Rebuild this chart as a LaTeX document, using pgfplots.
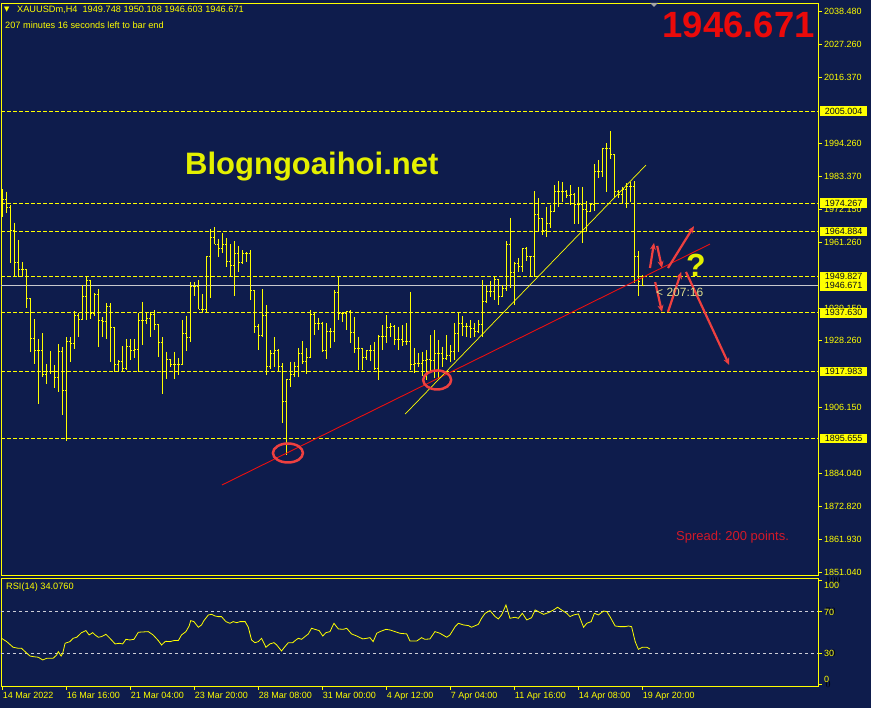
\documentclass[border=0pt]{standalone}
\usepackage{fontspec}
\setmainfont{Liberation Sans}
\newfontfamily\dejavu{DejaVu Sans}
\usepackage{pgfplots}
\usepackage{pgfplotstable}
\pgfplotsset{compat=1.18}
\usetikzlibrary{arrows.meta}
\definecolor{mtbg}{RGB}{14,28,76}
\definecolor{mty}{RGB}{255,255,0}
\definecolor{arrowred}{RGB}{238,64,64}
\definecolor{trendred}{RGB}{235,15,15}
\definecolor{bigred}{RGB}{235,10,10}
\definecolor{spreadred}{RGB}{210,25,40}
\definecolor{blogy}{RGB}{228,240,0}
\definecolor{cdown}{RGB}{222,222,140}
\definecolor{rsilev}{RGB}{205,205,215}
\definecolor{curline}{RGB}{200,200,205}

\pgfdeclareplotmark{tickL}{\pgfpathmoveto{\pgfqpoint{-1.7pt}{0pt}}\pgfpathlineto{\pgfqpoint{0pt}{0pt}}\pgfusepathqstroke}
\pgfdeclareplotmark{tickR}{\pgfpathmoveto{\pgfqpoint{0pt}{0pt}}\pgfpathlineto{\pgfqpoint{1.7pt}{0pt}}\pgfusepathqstroke}

\pgfplotstableread{
k o h l c
1 1976.0 1978.9 1969.8 1975.5
2 1975.5 1978.1 1970.9 1972.9
3 1972.9 1973.7 1954.2 1965.1
4 1965.1 1967.8 1949.5 1954.6
5 1954.6 1962.0 1949.7 1952.2
6 1952.2 1954.6 1949.7 1952.2
7 1952.2 1952.2 1939.4 1942.4
8 1942.4 1942.5 1924.7 1929.2
9 1929.2 1935.5 1920.4 1925.2
10 1925.2 1928.8 1907.1 1925.2
11 1925.2 1930.8 1916.3 1916.9
12 1916.9 1920.5 1913.9 1918.0
13 1918.0 1924.8 1917.2 1918.0
14 1918.0 1920.2 1912.4 1916.1
15 1916.1 1927.2 1911.3 1924.8
16 1924.8 1926.3 1903.4 1911.8
17 1911.8 1929.4 1894.8 1928.0
18 1928.0 1929.4 1921.3 1927.4
19 1927.4 1938.2 1925.4 1936.6
20 1936.6 1937.5 1929.7 1935.5
21 1935.5 1946.8 1935.2 1943.1
22 1943.1 1949.7 1935.2 1948.3
23 1948.3 1948.6 1935.5 1937.5
24 1937.5 1944.1 1936.6 1943.9
25 1943.9 1945.6 1926.3 1935.2
26 1935.2 1936.3 1929.7 1934.7
27 1934.7 1940.8 1928.8 1939.7
28 1939.7 1940.8 1921.3 1932.6
29 1932.6 1933.0 1918.0 1920.2
30 1920.2 1921.9 1918.0 1921.3
31 1921.3 1926.5 1918.0 1919.1
32 1919.1 1928.9 1918.5 1926.5
33 1926.5 1928.9 1921.9 1925.2
34 1925.2 1928.9 1922.4 1925.4
35 1925.4 1937.5 1918.0 1935.2
36 1935.2 1941.3 1927.0 1935.2
37 1935.2 1937.7 1933.9 1935.8
38 1935.8 1938.0 1929.4 1937.1
39 1937.1 1938.6 1931.9 1933.6
40 1933.6 1933.6 1922.8 1927.8
41 1927.8 1929.5 1910.5 1918.0
42 1918.0 1924.7 1915.4 1921.9
43 1921.9 1921.9 1919.6 1920.5
44 1920.5 1924.7 1915.4 1920.5
45 1920.5 1922.4 1916.9 1920.5
46 1920.5 1935.2 1920.5 1930.6
47 1930.6 1936.7 1925.0 1929.5
48 1929.5 1948.0 1927.8 1946.4
49 1946.4 1948.0 1943.3 1946.4
50 1946.4 1948.6 1938.8 1938.8
51 1938.8 1943.9 1937.7 1938.8
52 1938.8 1956.6 1937.7 1956.6
53 1956.6 1965.5 1942.5 1962.9
54 1962.9 1966.2 1960.6 1960.6
55 1960.6 1962.2 1956.2 1959.2
56 1959.2 1964.2 1957.5 1960.6
57 1960.6 1962.5 1953.1 1954.7
58 1954.7 1960.6 1949.9 1953.3
59 1953.3 1961.7 1943.3 1957.5
60 1957.5 1960.0 1951.4 1954.4
61 1954.4 1958.6 1954.0 1957.5
62 1957.5 1958.1 1954.7 1957.5
63 1957.5 1958.6 1941.9 1945.0
64 1945.0 1945.0 1931.0 1933.2
65 1933.2 1933.9 1925.2 1930.2
66 1930.2 1945.5 1929.5 1936.9
67 1936.9 1940.3 1916.9 1919.6
68 1919.6 1925.2 1918.8 1924.1
69 1924.1 1929.5 1919.6 1925.2
70 1925.2 1925.4 1918.3 1919.6
71 1919.6 1920.8 1900.7 1908.0
72 1908.0 1915.4 1890.1 1915.4
73 1915.4 1921.3 1912.7 1916.9
74 1916.9 1921.3 1916.3 1919.6
75 1919.6 1925.8 1916.1 1924.1
76 1924.1 1928.3 1920.5 1921.3
77 1921.3 1925.8 1917.2 1922.8
78 1922.8 1938.6 1922.4 1937.2
79 1937.2 1937.5 1930.2 1934.1
80 1934.1 1936.0 1931.9 1934.1
81 1934.1 1934.7 1924.7 1925.2
82 1925.2 1934.1 1922.1 1931.3
83 1931.3 1932.5 1925.8 1931.3
84 1931.3 1945.3 1928.0 1944.4
85 1944.4 1949.9 1935.2 1937.5
86 1937.5 1938.0 1934.7 1937.5
87 1937.5 1938.4 1931.9 1938.0
88 1938.0 1938.6 1927.4 1931.0
89 1931.0 1936.4 1924.1 1925.8
90 1925.8 1929.7 1918.5 1925.8
91 1925.8 1925.8 1918.5 1922.8
92 1922.8 1925.2 1921.9 1925.0
93 1925.0 1926.9 1921.7 1925.0
94 1925.0 1928.0 1918.5 1919.1
95 1919.1 1930.2 1915.2 1929.7
96 1929.7 1933.6 1925.2 1929.7
97 1929.7 1936.9 1927.4 1932.8
98 1932.8 1934.1 1929.7 1933.0
99 1933.0 1933.6 1926.9 1928.6
100 1928.6 1933.0 1925.2 1928.6
101 1928.6 1933.6 1926.6 1928.0
102 1928.0 1934.1 1926.9 1928.0
103 1928.0 1944.7 1918.5 1920.2
104 1920.2 1925.8 1917.4 1920.8
105 1920.8 1924.1 1919.6 1920.8
106 1920.8 1924.7 1916.5 1921.7
107 1921.7 1925.2 1915.2 1921.9
108 1921.9 1930.2 1918.0 1921.7
109 1921.7 1931.9 1915.7 1924.1
110 1924.1 1928.6 1915.7 1924.1
111 1924.1 1926.3 1919.6 1922.4
112 1922.4 1930.2 1921.9 1923.5
113 1923.5 1926.9 1921.3 1924.7
114 1924.7 1934.1 1921.9 1930.8
115 1930.8 1937.8 1924.7 1933.9
116 1933.9 1936.6 1929.9 1933.0
117 1933.0 1934.1 1929.7 1933.0
118 1933.0 1935.2 1929.1 1932.3
119 1932.3 1934.1 1929.7 1931.3
120 1931.3 1935.2 1930.8 1933.6
121 1933.6 1948.6 1929.7 1941.4
122 1941.4 1946.9 1940.9 1944.9
123 1944.9 1948.1 1943.0 1944.9
124 1944.9 1949.7 1941.9 1948.6
125 1948.6 1948.6 1940.3 1943.0
126 1943.0 1946.9 1943.0 1945.8
127 1945.8 1961.6 1944.9 1960.5
128 1960.5 1969.4 1945.8 1951.2
129 1951.2 1954.7 1940.3 1954.2
130 1954.2 1955.8 1951.4 1953.1
131 1953.1 1959.2 1951.4 1959.2
132 1959.2 1959.7 1955.0 1956.4
133 1956.4 1956.4 1949.7 1956.4
134 1956.4 1978.3 1949.7 1970.5
135 1970.5 1975.9 1964.5 1969.0
136 1969.0 1969.0 1963.6 1965.3
137 1965.3 1973.1 1963.1 1967.5
138 1967.5 1973.7 1965.9 1971.4
139 1971.4 1980.3 1971.4 1978.1
140 1978.1 1981.7 1973.1 1978.1
141 1978.1 1981.2 1974.6 1978.1
142 1978.1 1978.7 1976.1 1976.8
143 1976.8 1980.3 1973.7 1977.0
144 1977.0 1977.6 1967.2 1973.7
145 1973.7 1979.8 1967.2 1973.7
146 1973.7 1979.8 1960.9 1972.0
147 1972.0 1975.0 1965.0 1971.4
148 1971.4 1974.2 1971.4 1973.7
149 1973.7 1987.3 1971.7 1984.8
150 1984.8 1988.7 1982.6 1984.8
151 1984.8 1992.8 1983.1 1992.4
152 1992.4 1994.3 1978.1 1992.4
153 1992.4 1998.4 1989.0 1990.6
154 1990.6 1990.6 1976.1 1978.1
155 1978.1 1978.7 1975.9 1977.2
156 1977.2 1979.8 1974.2 1978.7
157 1978.7 1980.9 1972.6 1979.8
158 1979.8 1981.5 1974.6 1979.8
159 1979.8 1981.7 1947.5 1956.4
160 1956.4 1958.3 1943.4 1948.1
161 1949.748 1950.108 1946.603 1946.671
}\ohlc

\pgfplotstableread{
k r
0.7 44.4
2.0 41.2
3.6 35.8
4.9 34.8
5.7 34.8
6.6 31.6
7.8 27.4
8.6 26.8
9.9 26.2
11.0 23.6
12.0 25.2
13.6 25.2
14.5 28.4
14.9 31.6
15.6 27.4
16.0 30.0
16.6 39.6
17.8 41.2
18.6 44.4
19.5 45.4
20.7 49.8
21.8 51.8
22.6 47.6
23.5 49.8
24.1 47.6
24.9 45.4
25.7 46.0
26.8 48.2
27.8 44.4
29.1 39.0
30.1 39.6
31.0 39.0
31.8 43.4
32.8 42.8
33.8 43.4
34.9 50.2
36.1 50.5
37.4 50.8
38.6 47.6
39.9 42.2
40.7 38.0
41.7 41.5
42.8 41.2
43.8 42.2
44.9 42.2
45.7 47.6
46.8 50.8
47.6 56.2
48.0 61.4
48.8 60.4
49.9 55.0
50.7 57.2
51.3 61.4
52.4 66.8
53.2 67.4
54.1 65.8
54.9 65.2
55.7 65.2
56.8 60.4
57.8 58.8
58.6 60.4
59.5 59.4
60.3 60.4
61.6 60.4
62.4 55.0
63.2 42.8
64.05 40.2
64.9 41.2
65.7 44.4
66.8 35.8
67.8 39.0
68.8 40.2
69.5 38.0
70.7 32.2
71.55 36.4
72.4 40.2
73.5 40.2
74.3 42.8
74.9 44.4
75.7 43.4
76.55 46.0
77.4 48.6
78.2 54.0
79.05 53.0
80.1 51.8
81.0 46.6
81.8 49.8
82.8 50.8
83.8 58.8
84.9 53.4
86.1 53.0
87.0 54.0
88.2 48.6
89.5 46.6
91.0 43.8
92.0 44.4
92.8 45.0
93.6 41.2
94.5 49.2
95.3 50.8
96.8 53.0
97.8 52.4
99.05 50.8
100.3 49.2
102.0 48.6
102.8 41.8
104.5 41.8
105.7 45.0
106.55 43.4
107.8 43.8
109.05 50.8
110.3 49.2
112.0 45.4
112.8 47.6
114.1 55.6
114.9 58.8
116.2 57.2
117.4 56.6
118.2 55.0
119.9 57.8
120.7 63.6
121.6 68.4
122.8 71.0
124.1 65.2
124.9 63.0
125.7 66.8
126.8 76.4
127.8 63.6
129.1 64.6
129.9 63.6
130.9 68.4
132.0 62.0
133.2 64.2
134.1 71.6
134.9 70.0
136.2 67.4
137.4 69.0
138.7 71.6
139.7 74.2
140.7 71.6
142.0 68.4
142.8 65.2
143.7 66.8
144.9 67.8
146.2 55.0
147.0 58.8
148.1 60.4
148.9 68.4
149.9 66.8
151.2 70.6
152.0 70.0
152.8 65.2
154.1 56.2
155.3 55.6
156.6 55.6
157.4 56.2
158.2 55.6
159.1 41.2
159.9 33.8
160.9 35.8
162.0 35.8
162.8 34.1
}\rsi

\begin{document}
\frenchspacing
\begin{tikzpicture}[x=1pt,y=1pt]
\fill[mtbg] (0,0) rectangle (871,708);

% ---------------- main price axis ----------------
\begin{axis}[
  at={(1pt,133pt)}, anchor=south west,
  width=817pt, height=572pt, scale only axis,
  xmin=0.575, xmax=204.8, ymin=1850.04, ymax=2041.15,
  axis line style={mty, line width=0.8pt},
  xtick=\empty,
  ytick pos=right, yticklabel pos=right,
  ytick={1851.04,1861.93,1872.82,1884.04,1906.15,1928.26,1939.15,1961.26,1972.15,1983.37,1994.26,2016.37,2027.26,2038.48},
  tick align=outside, major tick length=4pt,
  tick style={mty, line width=0.8pt},
  yticklabel style={font=\fontsize{9}{10}\selectfont, text=mty, anchor=west, inner sep=0pt, xshift=2pt},
  /pgf/number format/.cd, fixed, precision=3, fixed zerofill, 1000 sep={}, assume math mode=true,
]
% horizontal levels
\addplot[mty, line width=0.8pt, dash pattern=on 4pt off 2pt, forget plot] coordinates {(0.575,2005.004) (204.8,2005.004)};
\addplot[mty, line width=0.8pt, dash pattern=on 4pt off 2pt, forget plot] coordinates {(0.575,1974.267) (204.8,1974.267)};
\addplot[mty, line width=0.8pt, dash pattern=on 4pt off 2pt, forget plot] coordinates {(0.575,1964.884) (204.8,1964.884)};
\addplot[mty, line width=0.8pt, dash pattern=on 4pt off 2pt, forget plot] coordinates {(0.575,1949.827) (204.8,1949.827)};
\addplot[mty, line width=0.8pt, dash pattern=on 4pt off 2pt, forget plot] coordinates {(0.575,1937.630) (204.8,1937.630)};
\addplot[mty, line width=0.8pt, dash pattern=on 4pt off 2pt, forget plot] coordinates {(0.575,1917.983) (204.8,1917.983)};
\addplot[mty, line width=0.8pt, dash pattern=on 4pt off 2pt, forget plot] coordinates {(0.575,1895.655) (204.8,1895.655)};
\addplot[curline, line width=0.9pt, forget plot] coordinates {(0.575,1946.671) (204.8,1946.671)};

% OHLC bars
\addplot[draw=none, mark=none, forget plot,
  error bars/.cd, y dir=minus, y explicit,
  error bar style={draw=mty, solid, line width=1.15pt}, error mark=none]
  table[x=k, y=h, y error minus expr=\thisrow{h}-\thisrow{l}] {\ohlc};
\addplot[only marks, mark=tickL, mark options={draw=mty, solid, line width=1pt}, forget plot] table[x=k, y=o] {\ohlc};
\addplot[only marks, mark=tickR, mark options={draw=mty, solid, line width=1pt}, forget plot] table[x=k, y=c] {\ohlc};

% trend lines
\addplot[trendred, line width=0.9pt, forget plot] coordinates {(55.8,1880.1) (177.8,1960.6)};
\addplot[mty, line width=0.7pt, forget plot] coordinates {(101.6,1903.8) (161.8,1987.0)};

% circles
\draw[arrowred, line width=2.5pt] (axis cs:72.3,1890.8) ellipse [x radius=15pt, y radius=9.5pt];
\draw[arrowred, line width=2.5pt] (axis cs:109.6,1915.2) ellipse [x radius=14pt, y radius=9.5pt];

% arrows
\draw[arrowred, line width=2.2pt, -{Stealth[length=7pt,width=6pt]}] (axis cs:162.8,1952.6) -- (axis cs:163.8,1961.0);
\draw[arrowred, line width=2.2pt, -{Stealth[length=7pt,width=6pt]}] (axis cs:164.6,1960.0) -- (axis cs:165.8,1952.6);
\draw[arrowred, line width=2.2pt, -{Stealth[length=7pt,width=6pt]}] (axis cs:167.3,1952.6) -- (axis cs:173.8,1966.6);
\draw[arrowred, line width=2.2pt, -{Stealth[length=7pt,width=6pt]}] (axis cs:164.1,1947.9) -- (axis cs:165.8,1937.9);
\draw[arrowred, line width=2.2pt, -{Stealth[length=7pt,width=6pt]}] (axis cs:167.3,1937.9) -- (axis cs:170.6,1951.3);
\draw[arrowred, line width=2.2pt, -{Stealth[length=7pt,width=6pt]}] (axis cs:171.8,1951.3) -- (axis cs:182.6,1920.2);
\end{axis}

% ---------------- RSI axis ----------------
\begin{axis}[
  at={(1pt,22pt)}, anchor=south west,
  width=817pt, height=108pt, scale only axis,
  xmin=0.575, xmax=204.8, ymin=-1.4, ymax=102.3,
  axis line style={mty, line width=0.8pt},
  xtick pos=bottom, ytick pos=right,
  xtick={1,17,33,49,65,81,97,113,129,145,161},
  xticklabels={14 Mar 2022,16 Mar 16:00,21 Mar 04:00,23 Mar 20:00,28 Mar 08:00,31 Mar 00:00,4 Apr 12:00,7 Apr 04:00,11 Apr 16:00,14 Apr 08:00,19 Apr 20:00},
  xticklabel style={font=\fontsize{9}{10}\selectfont, text=mty, anchor=north west, inner sep=0pt, yshift=-2pt},
  ytick={0,30,70,100}, yticklabel={},
  tick align=outside, major tick length=4pt,
  tick style={mty, line width=0.8pt},
]
\addplot[rsilev, line width=0.7pt, dash pattern=on 3pt off 3pt, forget plot] coordinates {(0.575,70) (204.8,70)};
\addplot[rsilev, line width=0.7pt, dash pattern=on 3pt off 3pt, forget plot] coordinates {(0.575,30) (204.8,30)};
\addplot[mty, line width=0.8pt, forget plot] table[x=k, y=r] {\rsi};
\end{axis}

% ---------------- price boxes on the right scale ----------------
\tikzset{pbox/.style={fill=mty, text=mtbg!40!black, font=\fontsize{9}{10}\selectfont, inner sep=0pt, minimum width=47pt, minimum height=9.5pt, anchor=west}}
\node[pbox] at (820,596.8) {2005.004};
\node[pbox] at (820,504.8) {1974.267};
\node[pbox] at (820,476.7) {1964.884};
\node[pbox] at (820,431.7) {1949.827};
\node[pbox] at (820,422.2) {1946.671};
\node[pbox] at (820,395.2) {1937.630};
\node[pbox] at (820,336.3) {1917.983};
\node[pbox] at (820,269.5) {1895.655};

% RSI scale labels
\node[anchor=west, text=mty, font=\fontsize{9}{10}\selectfont, inner sep=0pt] at (824,123) {100};
\node[anchor=west, text=mty, font=\fontsize{9}{10}\selectfont, inner sep=0pt] at (824,96) {70};
\node[anchor=west, text=mty, font=\fontsize{9}{10}\selectfont, inner sep=0pt] at (824,55) {30};
\node[anchor=west, text=mty, font=\fontsize{9}{10}\selectfont, inner sep=0pt] at (824,29) {0};

% texts
\node[anchor=west, text=mty, font=\dejavu\fontsize{7}{8}\selectfont, inner sep=0pt] at (4,698) {▼};
\node[anchor=west, text=mty, font=\fontsize{9.2}{10}\selectfont, inner sep=0pt] at (17,698) {XAUUSDm,H4\ \ 1949.748 1950.108 1946.603 1946.671};
\node[anchor=west, text=mty, font=\fontsize{9.2}{10}\selectfont, inner sep=0pt] at (5,683) {207 minutes 16 seconds left to bar end};
\node[anchor=base west, text=mty, font=\fontsize{9.2}{10}\selectfont, inner sep=0pt] at (6,118) {RSI(14) 34.0760};
\node[anchor=east, text=bigred, font=\bfseries\fontsize{36.5}{38}\selectfont, inner sep=0pt] at (815,683) {1946.671};
\node[anchor=base west, text=blogy, font=\bfseries\fontsize{31}{33}\selectfont, inner sep=0pt] at (185,533) {Blogngoaihoi.net};
\node[anchor=base west, text=blogy, font=\bfseries\fontsize{32}{34}\selectfont, inner sep=0pt] at (686,431) {?};
\node[anchor=base west, text=cdown, font=\fontsize{12}{13}\selectfont, inner sep=0pt] at (656,411) {< 207:16};
\node[anchor=base west, text=spreadred, font=\fontsize{13}{14}\selectfont, inner sep=0pt] at (676,167) {Spread: 200 points.};
\fill[gray!70] (650,705) -- (658,705) -- (654,701) -- cycle;
\end{tikzpicture}
\end{document}
